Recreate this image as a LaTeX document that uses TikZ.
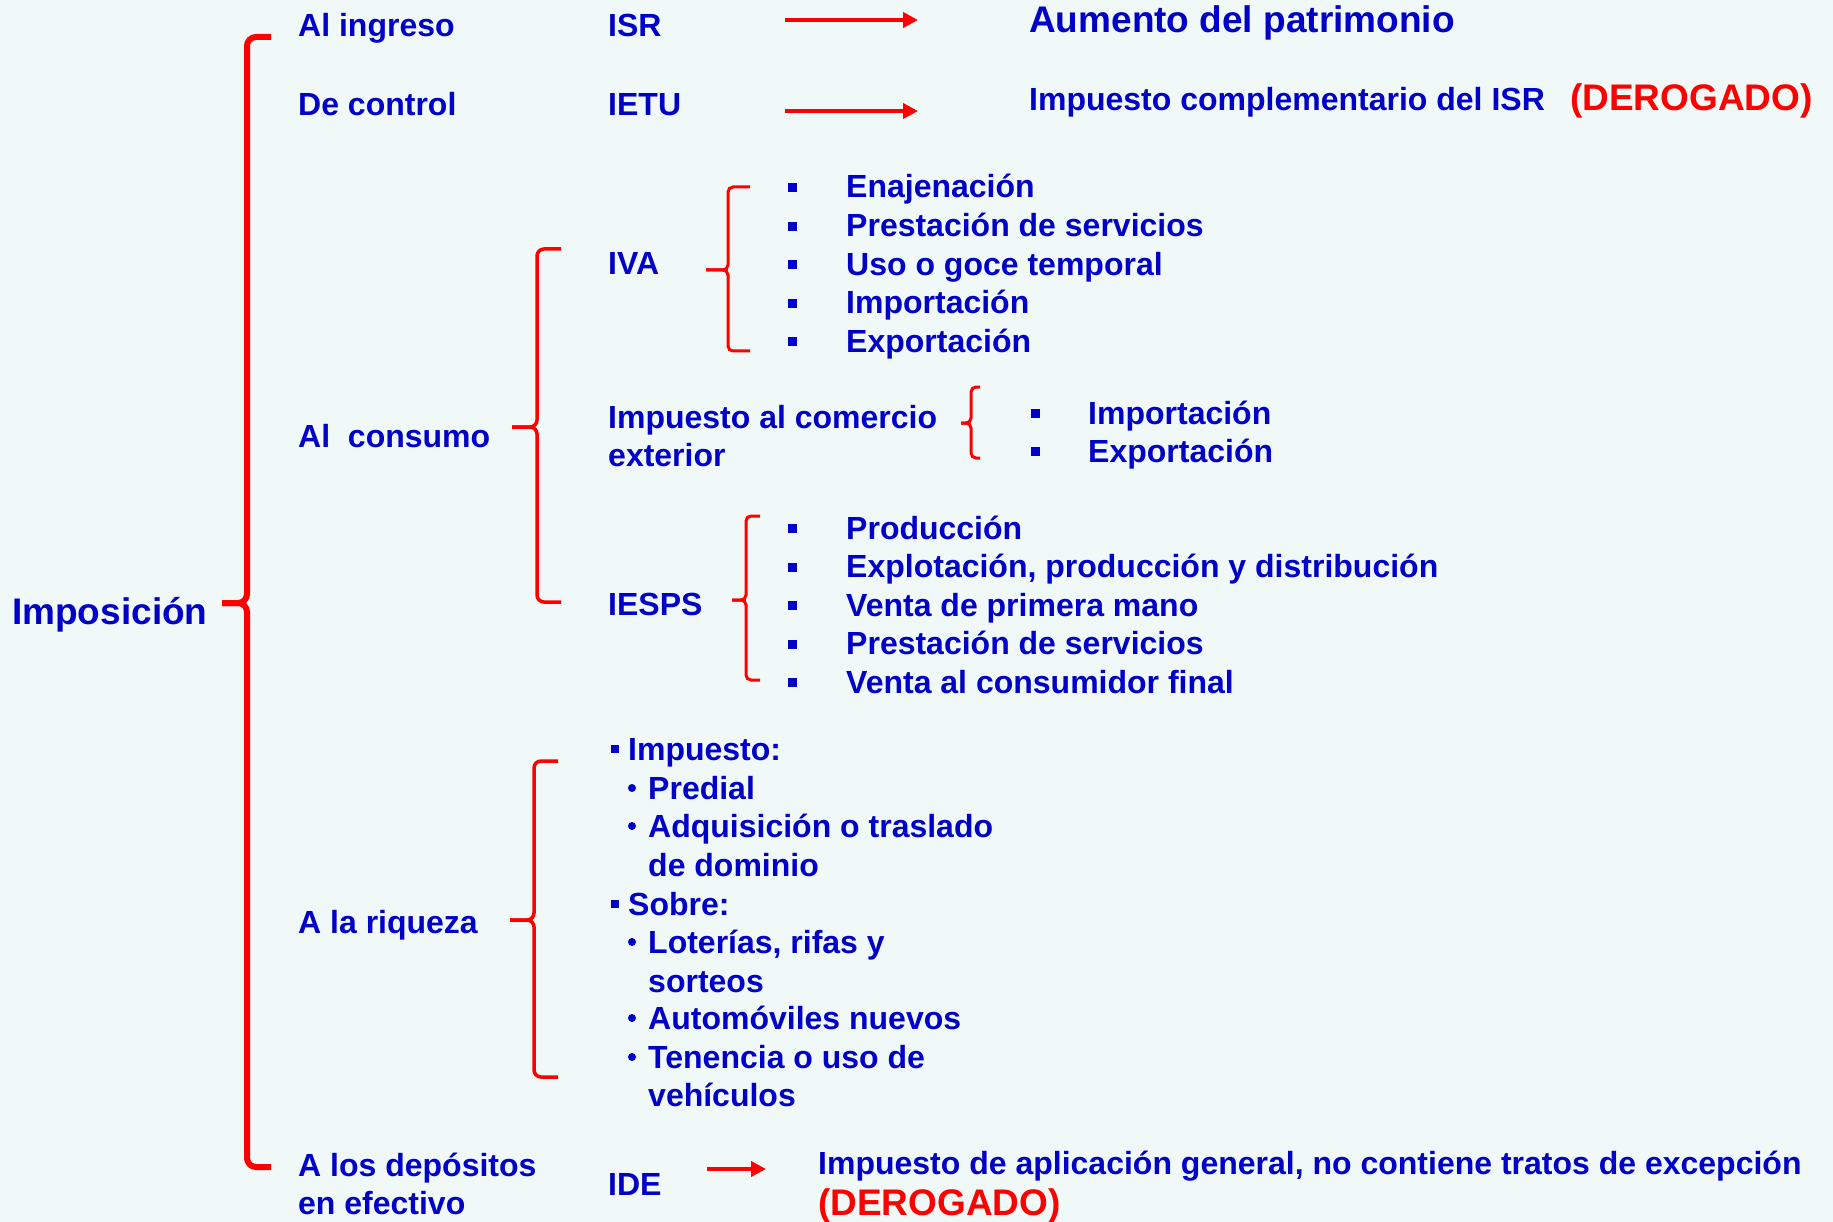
\documentclass[tikz,border=0pt]{standalone}
\usepackage{fontspec}
\setmainfont{Liberation Sans}
\usetikzlibrary{arrows.meta}
\definecolor{bg}{RGB}{240,249,248}
\definecolor{tblue}{RGB}{0,0,200}
\definecolor{tred}{RGB}{255,0,0}
\newcommand{\brk}[7]{%
  \draw[#7] (#6,#2) -- (#1,#2) -- (#1,#3) -- (#5,#3);
  \draw[#7] (#5,#3) -- (#1,#3) -- (#1,#4) -- (#6,#4);}
\tikzset{
  lbl/.style={anchor=base west, inner sep=0pt, text=tblue, font=\bfseries\fontsize{32}{38}\selectfont},
  big/.style={lbl, font=\bfseries\fontsize{37}{44}\selectfont},
  derog/.style={lbl, text=tred, font=\bfseries\fontsize{37}{44}\selectfont},
  brc/.style={draw=tred, line width=3.5pt, rounded corners=7pt},
  thinbrc/.style={brc, line width=3pt, rounded corners=5pt},
  arr/.style={draw=tred, line width=4.7pt, -{Triangle[length=15pt,width=15pt]}},
}
\begin{document}
\begin{tikzpicture}[x=1pt,y=-1pt]
\path[fill=bg] (0,0) rectangle (1833,1222);
\useasboundingbox (0,0) rectangle (1833,1222);

% root
\node[big] (impo) at (12,624) {Imposición};
\brk{247}{37}{603}{1167}{222}{271}{brc, line width=6pt, rounded corners=9pt}

% level 2
\node[lbl] (ingreso) at (298,37) {Al ingreso};
\node[lbl] (control) at (298,116) {De control};
\node[lbl] (consumo) at (298,447) {Al~~consumo};
\node[lbl] (riqueza) at (298,933) {A la riqueza};
\node[lbl] (depos1) at (298,1176) {A los depósitos};
\node[lbl] (depos2) at (298,1214) {en efectivo};

% level 3
\node[lbl] (isr) at (608,37) {ISR};
\node[lbl] (ietu) at (608,116) {IETU};
\node[lbl] (iva) at (608,275) {IVA};
\node[lbl] (ice1) at (608,428) {Impuesto al comercio};
\node[lbl] (ice2) at (608,466) {exterior};
\node[lbl] (iesps) at (608,615) {IESPS};
\node[lbl] (ide) at (608,1195) {IDE};

% arrows
\coordinate (a1s) at (785,20);  \coordinate (a1e) at (918,20);
\coordinate (a2s) at (785,111); \coordinate (a2e) at (918,111);
\coordinate (a3s) at (707,1169); \coordinate (a3e) at (766,1169);
\draw[arr] (a1s) -- (a1e);
\draw[arr] (a2s) -- (a2e);
\draw[arr] (a3s) -- (a3e);

% right texts
\node[big] (aumento) at (1029,33) {Aumento del patrimonio};
\node[lbl] (complem) at (1029,111) {Impuesto complementario del ISR};
\node[derog] (derog1) at (1570,111) {(DEROGADO)};
\node[lbl] (idetext) at (818,1174) {Impuesto de aplicación general, no contiene tratos de excepción};
\node[derog] (derog2) at (818,1215) {(DEROGADO)};

% braces
\brk{537}{249}{427}{602}{512}{561}{brc}
\brk{728}{187}{270}{351}{706}{750}{thinbrc}
\brk{971}{387}{423}{458}{961}{980}{thinbrc}
\brk{746}{516}{600}{680}{732}{760}{thinbrc}
\brk{534}{761}{920}{1077}{510}{558}{brc}

% IVA items
\foreach \t [count=\i] in {Enajenación, Prestación de servicios, Uso o goce temporal, Importación, Exportación} {
  \pgfmathsetmacro\yy{198+38.6*(\i-1)}
  \node[lbl] (iva\i) at (846,\yy) {\t};
  \fill[tblue] (788,\yy-15) rectangle (797,\yy-6);
}
% comercio items
\foreach \t [count=\i] in {Importación, Exportación} {
  \pgfmathsetmacro\yy{424+38*(\i-1)}
  \node[lbl] (ice\i x) at (1088,\yy) {\t};
  \fill[tblue] (1031,\yy-15) rectangle (1040,\yy-6);
}
% IESPS items
\foreach \t [count=\i] in {Producción, {Explotación, producción y distribución}, Venta de primera mano, Prestación de servicios, Venta al consumidor final} {
  \pgfmathsetmacro\yy{539+38.5*(\i-1)}
  \node[lbl] (iesps\i) at (846,\yy) {\t};
  \fill[tblue] (788,\yy-15) rectangle (797,\yy-6);
}

% riqueza items
\node[lbl] (rq1) at (628,760) {Impuesto:};
\fill[tblue] (611,745) rectangle (619,753);
\node[lbl] (rq2) at (648,799) {Predial};
\fill[tblue] (632,788) circle (4);
\node[lbl] (rq3) at (648,837) {Adquisición o traslado};
\fill[tblue] (632,826) circle (4);
\node[lbl] (rq4) at (648,876) {de dominio};
\node[lbl] (rq5) at (628,915) {Sobre:};
\fill[tblue] (611,900) rectangle (619,908);
\node[lbl] (rq6) at (648,953) {Loterías, rifas y};
\fill[tblue] (632,942) circle (4);
\node[lbl] (rq7) at (648,992) {sorteos};
\node[lbl] (rq8) at (648,1029) {Automóviles nuevos};
\fill[tblue] (632,1018) circle (4);
\node[lbl] (rq9) at (648,1068) {Tenencia o uso de};
\fill[tblue] (632,1057) circle (4);
\node[lbl] (rq10) at (648,1106) {vehículos};
\end{tikzpicture}
\end{document}
